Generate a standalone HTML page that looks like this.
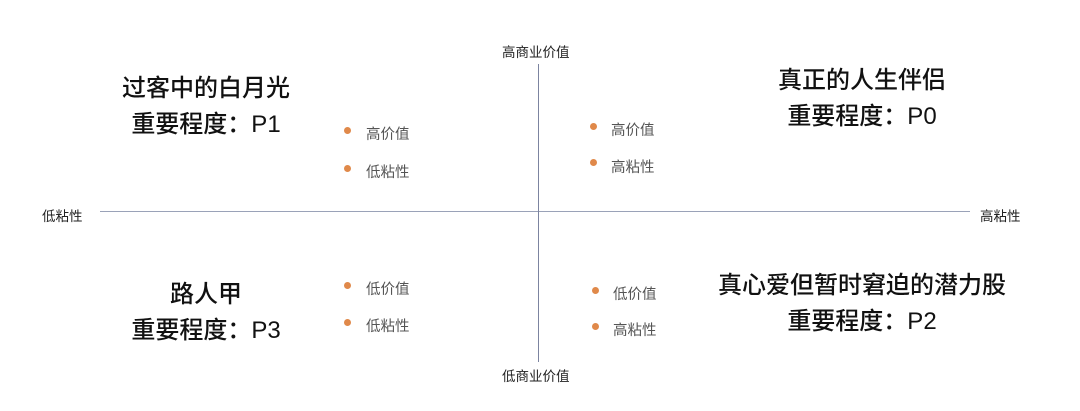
<!DOCTYPE html>
<html><head><meta charset="utf-8"><style>
body{margin:0;width:1080px;height:411px;background:#fff;position:relative;overflow:hidden;font-family:"Liberation Sans","Noto Sans CJK SC",sans-serif;}
.t{position:absolute;white-space:nowrap;}
.big{font-size:24px;color:#111;text-align:center;line-height:36px;transform:translateX(-50%);font-weight:500;}
.ax{font-size:13.5px;color:#222;}
.b{font-size:14.5px;color:#555;}
.d{position:absolute;width:7px;height:7px;border-radius:50%;background:#e0894a;}
</style></head><body>
<div style="position:absolute;left:100px;top:211px;width:870px;height:1px;background:#9aa2b8"></div>
<div style="position:absolute;left:538px;top:64px;width:1px;height:298px;background:#7c84a0"></div>
<div class="t ax" style="left:502px;top:41px">高商业价值</div>
<div class="t ax" style="left:502px;top:365px">低商业价值</div>
<div class="t ax" style="left:42px;top:205px">低粘性</div>
<div class="t ax" style="left:980px;top:205px">高粘性</div>

<div class="t big" style="left:206px;top:71px">过客中的白月光<br>重要程度：P1</div>
<div class="t big" style="left:862px;top:63px">真正的人生伴侣<br>重要程度：P0</div>
<div class="t big" style="left:206px;top:277px">路人甲<br>重要程度：P3</div>
<div class="t big" style="left:862px;top:268px">真心爱但暂时窘迫的潜力股<br>重要程度：P2</div>

<div class="d" style="left:344px;top:127px"></div><div class="t b" style="left:366px;top:123px">高价值</div>
<div class="d" style="left:344px;top:165px"></div><div class="t b" style="left:366px;top:161px">低粘性</div>
<div class="d" style="left:590px;top:123px"></div><div class="t b" style="left:611px;top:119px">高价值</div>
<div class="d" style="left:590px;top:159px"></div><div class="t b" style="left:611px;top:156px">高粘性</div>
<div class="d" style="left:344px;top:282px"></div><div class="t b" style="left:366px;top:278px">低价值</div>
<div class="d" style="left:344px;top:319px"></div><div class="t b" style="left:366px;top:315px">低粘性</div>
<div class="d" style="left:592px;top:287px"></div><div class="t b" style="left:613px;top:283px">低价值</div>
<div class="d" style="left:592px;top:323px"></div><div class="t b" style="left:613px;top:319px">高粘性</div>
</body></html>
